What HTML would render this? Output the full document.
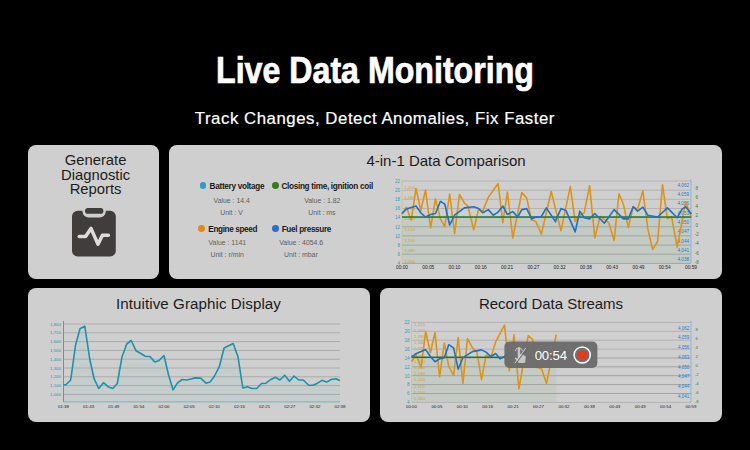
<!DOCTYPE html>
<html><head><meta charset="utf-8"><title>Live Data Monitoring</title>
<style>
html,body{margin:0;padding:0;background:#000;}
body{width:750px;height:450px;position:relative;overflow:hidden;font-family:"Liberation Sans",sans-serif;}
.card{position:absolute;background:#cfcfcf;border-radius:8px;}
.t{position:absolute;white-space:nowrap;transform:translateX(-50%);text-align:center;}
.h1{left:375.2px;top:49.8px;color:#fff;font-weight:bold;font-size:36.6px;line-height:42px;-webkit-text-stroke:0.7px #fff;}
.h1 span{display:inline-block;transform:scaleX(0.879);transform-origin:center;}
.h2{left:374.9px;top:108.1px;color:#fff;font-size:16.8px;line-height:22px;letter-spacing:0.54px;-webkit-text-stroke:0.2px #fff;}
.ct{color:#1c1c1c;font-size:15px;line-height:18px;}
.lg{position:absolute;white-space:nowrap;font-weight:bold;font-size:8.2px;line-height:12px;color:#1a1a1a;letter-spacing:-0.3px;}
.sm{color:#606060;font-size:6.9px;line-height:10px;}
.dot{position:absolute;width:6.8px;height:6.8px;margin:-0.2px 0 0 -0.2px;border-radius:50%;}
svg{position:absolute;left:0;top:0;}
svg text{font-family:"Liberation Sans",sans-serif;}
</style></head><body>
<div class="t h1"><span>Live Data Monitoring</span></div>
<div class="t h2">Track Changes, Detect Anomalies, Fix Faster</div>

<div class="card" style="left:28px;top:145px;width:131px;height:134px;"></div>
<div class="card" style="left:169px;top:145px;width:553px;height:134px;"></div>
<div class="card" style="left:28px;top:288px;width:342px;height:134px;"></div>
<div class="card" style="left:380px;top:288px;width:342px;height:134px;"></div>

<div class="t ct" style="left:95.6px;top:153.3px;font-size:14.8px;line-height:14.3px;">Generate<br>Diagnostic<br>Reports</div>
<div class="t ct" style="left:446px;top:151.6px;">4-in-1 Data Comparison</div>
<div class="t ct" style="left:198.5px;top:295.2px;font-size:15.2px;letter-spacing:0.05px">Intuitive Graphic Display</div>
<div class="t ct" style="left:551px;top:294.5px;">Record Data Streams</div>

<div class="dot" style="left:199.7px;top:182.6px;background:#2a9fc0;"></div>
<div class="lg" style="left:209.6px;top:181.2px;">Battery voltage</div>
<div class="dot" style="left:272px;top:182.6px;background:#3a7a1e;"></div>
<div class="lg" style="left:281.4px;top:181.3px;">Closing time, ignition coil</div>
<div class="t sm" style="left:231.7px;top:195.7px;">Value : 14.4</div>
<div class="t sm" style="left:231.5px;top:207.7px;">Unit : V</div>
<div class="t sm" style="left:322.3px;top:196.1px;">Value : 1.82</div>
<div class="t sm" style="left:321.9px;top:208px;">Unit : ms</div>

<div class="dot" style="left:198.6px;top:225.1px;background:#e08a1a;"></div>
<div class="lg" style="left:208.3px;top:223.6px;letter-spacing:-0.37px">Engine speed</div>
<div class="dot" style="left:271.9px;top:225px;background:#2a6fd0;"></div>
<div class="lg" style="left:281.7px;top:223.6px;letter-spacing:-0.33px">Fuel pressure</div>
<div class="t sm" style="left:227.3px;top:238.1px;">Value : 1141</div>
<div class="t sm" style="left:227.1px;top:249.8px;">Unit : r/min</div>
<div class="t sm" style="left:301.2px;top:238.1px;">Value : 4054.6</div>
<div class="t sm" style="left:300.9px;top:249.8px;">Unit : mbar</div>

<svg width="750" height="450" viewBox="0 0 750 450">
<rect x="402.0" y="217.0" width="289.0" height="46.4" fill="#c4cbc5"/>
<line x1="402.0" y1="181.0" x2="691.0" y2="181.0" stroke="#b3b3b3" stroke-width="1" />
<line x1="402.0" y1="190.2" x2="691.0" y2="190.2" stroke="#b3b3b3" stroke-width="1" />
<line x1="402.0" y1="199.3" x2="691.0" y2="199.3" stroke="#b3b3b3" stroke-width="1" />
<line x1="402.0" y1="208.5" x2="691.0" y2="208.5" stroke="#b3b3b3" stroke-width="1" />
<line x1="402.0" y1="217.6" x2="691.0" y2="217.6" stroke="#a2a4a2" stroke-width="1" />
<line x1="402.0" y1="226.8" x2="691.0" y2="226.8" stroke="#a2a4a2" stroke-width="1" />
<line x1="402.0" y1="235.9" x2="691.0" y2="235.9" stroke="#a2a4a2" stroke-width="1" />
<line x1="402.0" y1="245.1" x2="691.0" y2="245.1" stroke="#a2a4a2" stroke-width="1" />
<line x1="402.0" y1="254.2" x2="691.0" y2="254.2" stroke="#a2a4a2" stroke-width="1" />
<line x1="402.0" y1="263.4" x2="691.0" y2="263.4" stroke="#a2a4a2" stroke-width="1" />
<line x1="402.0" y1="179.5" x2="402.0" y2="263.4" stroke="#d6c08c" stroke-width="1" />
<line x1="691.0" y1="179.5" x2="691.0" y2="263.4" stroke="#8db4dc" stroke-width="1" />
<text x="400.0" y="182.8" fill="#2a9fb5" font-size="4.6" text-anchor="end" >22</text>
<text x="400.0" y="192.0" fill="#2a9fb5" font-size="4.6" text-anchor="end" >20</text>
<text x="400.0" y="201.1" fill="#2a9fb5" font-size="4.6" text-anchor="end" >18</text>
<text x="400.0" y="210.3" fill="#2a9fb5" font-size="4.6" text-anchor="end" >16</text>
<text x="400.0" y="219.4" fill="#2a9fb5" font-size="4.6" text-anchor="end" >14</text>
<text x="400.0" y="228.6" fill="#2a9fb5" font-size="4.6" text-anchor="end" >12</text>
<text x="400.0" y="237.7" fill="#2a9fb5" font-size="4.6" text-anchor="end" >10</text>
<text x="400.0" y="246.9" fill="#2a9fb5" font-size="4.6" text-anchor="end" >8</text>
<text x="400.0" y="256.0" fill="#2a9fb5" font-size="4.6" text-anchor="end" >6</text>
<text x="400.0" y="265.2" fill="#2a9fb5" font-size="4.6" text-anchor="end" >4</text>
<text x="404.2" y="188.5" fill="#d29a35" font-size="4.4" text-anchor="start" opacity="0.9">1,200</text>
<text x="404.2" y="199.1" fill="#d29a35" font-size="4.4" text-anchor="start" opacity="0.9">1,180</text>
<text x="404.2" y="209.7" fill="#d29a35" font-size="4.4" text-anchor="start" opacity="0.9">1,160</text>
<text x="404.2" y="220.3" fill="#d29a35" font-size="4.4" text-anchor="start" opacity="0.9">1,140</text>
<text x="404.2" y="231.0" fill="#d29a35" font-size="4.4" text-anchor="start" opacity="0.9">1,120</text>
<text x="404.2" y="241.6" fill="#d29a35" font-size="4.4" text-anchor="start" opacity="0.9">1,100</text>
<text x="404.2" y="252.2" fill="#d29a35" font-size="4.4" text-anchor="start" opacity="0.9">1,080</text>
<text x="404.2" y="262.8" fill="#d29a35" font-size="4.4" text-anchor="start" opacity="0.9">1,050</text>
<text x="689.2" y="186.9" fill="#2f78c8" font-size="4.7" text-anchor="end" >4,062</text>
<text x="689.2" y="196.2" fill="#2f78c8" font-size="4.7" text-anchor="end" >4,059</text>
<text x="689.2" y="205.4" fill="#2f78c8" font-size="4.7" text-anchor="end" >4,056</text>
<text x="689.2" y="214.7" fill="#2f78c8" font-size="4.7" text-anchor="end" >4,053</text>
<text x="689.2" y="224.0" fill="#2f78c8" font-size="4.7" text-anchor="end" >4,050</text>
<text x="689.2" y="233.3" fill="#2f78c8" font-size="4.7" text-anchor="end" >4,047</text>
<text x="689.2" y="242.5" fill="#2f78c8" font-size="4.7" text-anchor="end" >4,044</text>
<text x="689.2" y="251.8" fill="#2f78c8" font-size="4.7" text-anchor="end" >4,041</text>
<text x="689.2" y="261.1" fill="#2f78c8" font-size="4.7" text-anchor="end" >4,038</text>
<text x="696.8" y="189.6" fill="#4a7a20" font-size="4.5" text-anchor="middle" >8</text>
<text x="696.8" y="198.9" fill="#4a7a20" font-size="4.5" text-anchor="middle" >6</text>
<text x="696.8" y="208.2" fill="#4a7a20" font-size="4.5" text-anchor="middle" >4</text>
<text x="696.8" y="217.4" fill="#4a7a20" font-size="4.5" text-anchor="middle" >2</text>
<text x="696.8" y="226.7" fill="#4a7a20" font-size="4.5" text-anchor="middle" >0</text>
<text x="696.8" y="236.0" fill="#4a7a20" font-size="4.5" text-anchor="middle" >-2</text>
<text x="696.8" y="245.2" fill="#4a7a20" font-size="4.5" text-anchor="middle" >-4</text>
<text x="696.8" y="254.5" fill="#4a7a20" font-size="4.5" text-anchor="middle" >-6</text>
<text x="696.8" y="263.8" fill="#4a7a20" font-size="4.5" text-anchor="middle" >-8</text>
<text x="402.0" y="269.4" fill="#222" font-size="4.8" text-anchor="middle" >00:00</text>
<text x="428.3" y="269.4" fill="#222" font-size="4.8" text-anchor="middle" >00:05</text>
<text x="454.5" y="269.4" fill="#222" font-size="4.8" text-anchor="middle" >00:10</text>
<text x="480.8" y="269.4" fill="#222" font-size="4.8" text-anchor="middle" >00:16</text>
<text x="507.1" y="269.4" fill="#222" font-size="4.8" text-anchor="middle" >00:21</text>
<text x="533.4" y="269.4" fill="#222" font-size="4.8" text-anchor="middle" >00:27</text>
<text x="559.6" y="269.4" fill="#222" font-size="4.8" text-anchor="middle" >00:32</text>
<text x="585.9" y="269.4" fill="#222" font-size="4.8" text-anchor="middle" >00:38</text>
<text x="612.2" y="269.4" fill="#222" font-size="4.8" text-anchor="middle" >00:43</text>
<text x="638.5" y="269.4" fill="#222" font-size="4.8" text-anchor="middle" >00:49</text>
<text x="664.7" y="269.4" fill="#222" font-size="4.8" text-anchor="middle" >00:54</text>
<text x="691.0" y="269.4" fill="#222" font-size="4.8" text-anchor="middle" >00:59</text>
<path d="M402.0 214.0 L406.4 207.4 L411.3 220.1 L416.0 188.3 L420.8 210.4 L425.5 190.1 L430.6 228.0 L435.5 198.9 L440.4 218.9 L444.8 226.7 L449.7 194.0 L454.6 233.6 L459.5 194.5 L464.4 203.0 L468.0 206.2 L473.7 229.9 L478.6 209.1 L482.7 211.1 L488.3 197.4 L498.1 183.5 L502.8 222.6 L507.4 192.0 L512.8 238.0 L521.8 192.5 L526.7 198.1 L531.6 220.1 L535.8 221.4 L541.4 234.1 L551.2 191.5 L561.0 230.7 L570.3 186.6 L575.2 221.4 L579.8 215.2 L584.2 212.8 L589.6 185.9 L594.8 237.7 L600.1 216.5 L608.7 222.6 L614.1 240.4 L619.0 193.7 L623.4 204.2 L628.3 227.5 L633.2 206.7 L637.6 209.1 L642.9 190.8 L647.8 228.7 L652.7 249.5 L657.6 241.4 L662.5 184.7 L667.4 218.9 L671.5 216.5 L677.2 247.0 L685.7 201.8 L691.4 217.7" fill="none" stroke="#dc9418" stroke-width="1.6" stroke-linejoin="round"/>
<line x1="402.0" y1="217.0" x2="691.0" y2="217.0" stroke="#1f7a2c" stroke-width="1.5" />
<path d="M402.0 213.5 L406.4 209.1 L416.0 206.0 L420.8 212.8 L425.5 217.0 L430.6 214.5 L435.5 213.5 L440.4 201.3 L444.8 204.2 L449.7 225.0 L454.6 215.2 L464.4 207.9 L473.7 206.7 L478.6 208.6 L482.7 212.8 L488.3 209.6 L493.2 215.2 L498.1 212.1 L502.8 206.2 L507.4 214.5 L512.8 211.6 L517.7 217.0 L521.8 209.6 L526.7 208.6 L531.6 218.9 L535.8 217.0 L541.4 216.5 L546.3 207.9 L555.6 221.8 L555.4 221.4 L561.0 208.6 L565.9 210.4 L575.2 231.9 L579.8 211.1 L584.2 217.7 L589.6 218.9 L594.8 213.5 L604.3 223.3 L614.1 209.6 L623.4 218.9 L628.3 218.9 L633.2 206.7 L637.6 211.1 L642.9 207.2 L647.8 215.2 L657.6 217.0 L667.4 207.9 L677.2 217.7 L682.1 209.1 L685.7 206.7 L691.4 214.0" fill="none" stroke="#1f70c6" stroke-width="1.6" stroke-linejoin="round"/>
<path d="M63.5 384.8 L65.9 384.8 L70.7 380.0 L75.5 345.3 L80.0 328.8 L84.8 326.1 L89.9 360.0 L94.1 378.7 L98.7 388.5 L103.5 382.7 L108.5 386.9 L112.8 388.5 L117.3 383.5 L121.9 357.3 L126.7 344.0 L131.2 340.5 L136.0 350.7 L140.5 353.3 L145.3 356.3 L149.9 356.5 L154.7 361.9 L158.7 360.8 L164.0 355.5 L168.5 374.7 L173.1 389.9 L177.3 383.2 L182.1 379.5 L186.7 380.0 L190.0 379.2 L195.3 377.9 L200.7 378.1 L206.0 383.2 L210.0 382.1 L214.5 376.0 L219.3 366.7 L224.1 348.0 L233.2 343.5 L238.0 356.8 L242.8 388.0 L247.3 386.7 L251.9 388.5 L256.7 388.5 L261.5 383.5 L266.0 383.2 L270.0 380.0 L275.3 377.3 L279.9 380.0 L284.7 375.2 L289.5 381.3 L294.0 376.0 L298.8 380.0 L303.3 380.0 L308.7 385.3 L313.2 385.3 L317.5 383.2 L322.0 380.3 L326.5 382.1 L331.3 379.5 L335.9 378.7 L339.9 380.5 L340.0 401.9 L63.5 401.9 Z" fill="#c6cdcd" stroke="none"/>
<line x1="63.5" y1="324.0" x2="340.0" y2="324.0" stroke="#a9abab" stroke-width="1" />
<line x1="63.5" y1="332.8" x2="340.0" y2="332.8" stroke="#a9abab" stroke-width="1" />
<line x1="63.5" y1="341.6" x2="340.0" y2="341.6" stroke="#a9abab" stroke-width="1" />
<line x1="63.5" y1="350.4" x2="340.0" y2="350.4" stroke="#a9abab" stroke-width="1" />
<line x1="63.5" y1="359.2" x2="340.0" y2="359.2" stroke="#a9abab" stroke-width="1" />
<line x1="63.5" y1="368.0" x2="340.0" y2="368.0" stroke="#a9abab" stroke-width="1" />
<line x1="63.5" y1="376.8" x2="340.0" y2="376.8" stroke="#a9abab" stroke-width="1" />
<line x1="63.5" y1="385.6" x2="340.0" y2="385.6" stroke="#a9abab" stroke-width="1" />
<line x1="63.5" y1="394.4" x2="340.0" y2="394.4" stroke="#a9abab" stroke-width="1" />
<line x1="63.5" y1="401.9" x2="340.0" y2="401.9" stroke="#5ab0b8" stroke-width="0.8" />
<line x1="63.5" y1="321.0" x2="63.5" y2="401.9" stroke="#3aa7b8" stroke-width="1" />
<text x="61.0" y="325.6" fill="#1f98b0" font-size="4.4" text-anchor="end" >1,800</text>
<text x="61.0" y="334.4" fill="#1f98b0" font-size="4.4" text-anchor="end" >1,700</text>
<text x="61.0" y="343.2" fill="#1f98b0" font-size="4.4" text-anchor="end" >1,600</text>
<text x="61.0" y="352.0" fill="#1f98b0" font-size="4.4" text-anchor="end" >1,500</text>
<text x="61.0" y="360.8" fill="#1f98b0" font-size="4.4" text-anchor="end" >1,400</text>
<text x="61.0" y="369.6" fill="#1f98b0" font-size="4.4" text-anchor="end" >1,300</text>
<text x="61.0" y="378.4" fill="#1f98b0" font-size="4.4" text-anchor="end" >1,200</text>
<text x="61.0" y="387.2" fill="#1f98b0" font-size="4.4" text-anchor="end" >1,100</text>
<text x="61.0" y="396.0" fill="#1f98b0" font-size="4.4" text-anchor="end" >1,000</text>
<text x="63.5" y="408.2" fill="#222" font-size="4.4" text-anchor="middle" >01:38</text>
<text x="88.6" y="408.2" fill="#222" font-size="4.4" text-anchor="middle" >01:43</text>
<text x="113.8" y="408.2" fill="#222" font-size="4.4" text-anchor="middle" >01:49</text>
<text x="138.9" y="408.2" fill="#222" font-size="4.4" text-anchor="middle" >01:54</text>
<text x="164.0" y="408.2" fill="#222" font-size="4.4" text-anchor="middle" >02:00</text>
<text x="189.2" y="408.2" fill="#222" font-size="4.4" text-anchor="middle" >02:05</text>
<text x="214.3" y="408.2" fill="#222" font-size="4.4" text-anchor="middle" >02:10</text>
<text x="239.5" y="408.2" fill="#222" font-size="4.4" text-anchor="middle" >02:16</text>
<text x="264.6" y="408.2" fill="#222" font-size="4.4" text-anchor="middle" >02:21</text>
<text x="289.7" y="408.2" fill="#222" font-size="4.4" text-anchor="middle" >02:27</text>
<text x="314.9" y="408.2" fill="#222" font-size="4.4" text-anchor="middle" >02:32</text>
<text x="340.0" y="408.2" fill="#222" font-size="4.4" text-anchor="middle" >02:38</text>
<path d="M63.5 384.8 L65.9 384.8 L70.7 380.0 L75.5 345.3 L80.0 328.8 L84.8 326.1 L89.9 360.0 L94.1 378.7 L98.7 388.5 L103.5 382.7 L108.5 386.9 L112.8 388.5 L117.3 383.5 L121.9 357.3 L126.7 344.0 L131.2 340.5 L136.0 350.7 L140.5 353.3 L145.3 356.3 L149.9 356.5 L154.7 361.9 L158.7 360.8 L164.0 355.5 L168.5 374.7 L173.1 389.9 L177.3 383.2 L182.1 379.5 L186.7 380.0 L190.0 379.2 L195.3 377.9 L200.7 378.1 L206.0 383.2 L210.0 382.1 L214.5 376.0 L219.3 366.7 L224.1 348.0 L233.2 343.5 L238.0 356.8 L242.8 388.0 L247.3 386.7 L251.9 388.5 L256.7 388.5 L261.5 383.5 L266.0 383.2 L270.0 380.0 L275.3 377.3 L279.9 380.0 L284.7 375.2 L289.5 381.3 L294.0 376.0 L298.8 380.0 L303.3 380.0 L308.7 385.3 L313.2 385.3 L317.5 383.2 L322.0 380.3 L326.5 382.1 L331.3 379.5 L335.9 378.7 L339.9 380.5" fill="none" stroke="#1a93ab" stroke-width="1.6" stroke-linejoin="round"/>
<rect x="411.5" y="357.2" width="144.8" height="45.2" fill="#c4cbc5"/>
<line x1="411.5" y1="322.4" x2="691.0" y2="322.4" stroke="#b3b3b3" stroke-width="1" />
<line x1="411.5" y1="331.3" x2="691.0" y2="331.3" stroke="#b3b3b3" stroke-width="1" />
<line x1="411.5" y1="340.2" x2="691.0" y2="340.2" stroke="#b3b3b3" stroke-width="1" />
<line x1="411.5" y1="349.1" x2="691.0" y2="349.1" stroke="#b3b3b3" stroke-width="1" />
<line x1="411.5" y1="358.0" x2="691.0" y2="358.0" stroke="#a2a4a2" stroke-width="1" />
<line x1="411.5" y1="366.8" x2="691.0" y2="366.8" stroke="#a2a4a2" stroke-width="1" />
<line x1="411.5" y1="375.7" x2="691.0" y2="375.7" stroke="#a2a4a2" stroke-width="1" />
<line x1="411.5" y1="384.6" x2="691.0" y2="384.6" stroke="#a2a4a2" stroke-width="1" />
<line x1="411.5" y1="393.5" x2="691.0" y2="393.5" stroke="#a2a4a2" stroke-width="1" />
<line x1="411.5" y1="402.4" x2="691.0" y2="402.4" stroke="#b3b3b3" stroke-width="1" />
<line x1="411.5" y1="320.9" x2="411.5" y2="402.4" stroke="#d6c08c" stroke-width="1" />
<line x1="691.0" y1="320.9" x2="691.0" y2="402.4" stroke="#8db4dc" stroke-width="1" />
<text x="409.5" y="324.2" fill="#2a9fb5" font-size="4.6" text-anchor="end" >22</text>
<text x="409.5" y="333.1" fill="#2a9fb5" font-size="4.6" text-anchor="end" >20</text>
<text x="409.5" y="342.0" fill="#2a9fb5" font-size="4.6" text-anchor="end" >18</text>
<text x="409.5" y="350.9" fill="#2a9fb5" font-size="4.6" text-anchor="end" >16</text>
<text x="409.5" y="359.8" fill="#2a9fb5" font-size="4.6" text-anchor="end" >14</text>
<text x="409.5" y="368.6" fill="#2a9fb5" font-size="4.6" text-anchor="end" >12</text>
<text x="409.5" y="377.5" fill="#2a9fb5" font-size="4.6" text-anchor="end" >10</text>
<text x="409.5" y="386.4" fill="#2a9fb5" font-size="4.6" text-anchor="end" >8</text>
<text x="409.5" y="395.3" fill="#2a9fb5" font-size="4.6" text-anchor="end" >6</text>
<text x="409.5" y="404.2" fill="#2a9fb5" font-size="4.6" text-anchor="end" >4</text>
<text x="414.0" y="325.5" fill="#d29a35" font-size="4.4" text-anchor="start" opacity="0.9">1,213</text>
<text x="414.0" y="331.7" fill="#d29a35" font-size="4.4" text-anchor="start" opacity="0.9">1,200</text>
<text x="414.0" y="337.9" fill="#d29a35" font-size="4.4" text-anchor="start" opacity="0.9">1,190</text>
<text x="414.0" y="344.1" fill="#d29a35" font-size="4.4" text-anchor="start" opacity="0.9">1,180</text>
<text x="414.0" y="350.3" fill="#d29a35" font-size="4.4" text-anchor="start" opacity="0.9">1,170</text>
<text x="414.0" y="356.5" fill="#d29a35" font-size="4.4" text-anchor="start" opacity="0.9">1,160</text>
<text x="414.0" y="362.7" fill="#d29a35" font-size="4.4" text-anchor="start" opacity="0.9">1,150</text>
<text x="414.0" y="368.9" fill="#d29a35" font-size="4.4" text-anchor="start" opacity="0.9">1,140</text>
<text x="414.0" y="375.1" fill="#d29a35" font-size="4.4" text-anchor="start" opacity="0.9">1,130</text>
<text x="414.0" y="381.3" fill="#d29a35" font-size="4.4" text-anchor="start" opacity="0.9">1,120</text>
<text x="414.0" y="387.5" fill="#d29a35" font-size="4.4" text-anchor="start" opacity="0.9">1,110</text>
<text x="414.0" y="393.7" fill="#d29a35" font-size="4.4" text-anchor="start" opacity="0.9">1,100</text>
<text x="414.0" y="399.9" fill="#d29a35" font-size="4.4" text-anchor="start" opacity="0.9">1,090</text>
<text x="689.2" y="329.6" fill="#2f78c8" font-size="4.5" text-anchor="end" >4,062</text>
<text x="689.2" y="339.3" fill="#2f78c8" font-size="4.5" text-anchor="end" >4,059</text>
<text x="689.2" y="349.0" fill="#2f78c8" font-size="4.5" text-anchor="end" >4,056</text>
<text x="689.2" y="358.7" fill="#2f78c8" font-size="4.5" text-anchor="end" >4,053</text>
<text x="689.2" y="368.5" fill="#2f78c8" font-size="4.5" text-anchor="end" >4,050</text>
<text x="689.2" y="378.2" fill="#2f78c8" font-size="4.5" text-anchor="end" >4,047</text>
<text x="689.2" y="387.9" fill="#2f78c8" font-size="4.5" text-anchor="end" >4,044</text>
<text x="689.2" y="397.6" fill="#2f78c8" font-size="4.5" text-anchor="end" >4,041</text>
<text x="696.8" y="330.6" fill="#4a7a20" font-size="4.3" text-anchor="middle" >8</text>
<text x="696.8" y="339.6" fill="#4a7a20" font-size="4.3" text-anchor="middle" >6</text>
<text x="696.8" y="348.6" fill="#4a7a20" font-size="4.3" text-anchor="middle" >4</text>
<text x="696.8" y="357.6" fill="#4a7a20" font-size="4.3" text-anchor="middle" >2</text>
<text x="696.8" y="366.6" fill="#4a7a20" font-size="4.3" text-anchor="middle" >0</text>
<text x="696.8" y="375.6" fill="#4a7a20" font-size="4.3" text-anchor="middle" >-2</text>
<text x="696.8" y="384.6" fill="#4a7a20" font-size="4.3" text-anchor="middle" >-4</text>
<text x="696.8" y="393.6" fill="#4a7a20" font-size="4.3" text-anchor="middle" >-6</text>
<text x="696.8" y="402.6" fill="#4a7a20" font-size="4.3" text-anchor="middle" >-8</text>
<text x="411.5" y="407.7" fill="#222" font-size="4.4" text-anchor="middle" >00:00</text>
<text x="436.9" y="407.7" fill="#222" font-size="4.4" text-anchor="middle" >00:05</text>
<text x="462.3" y="407.7" fill="#222" font-size="4.4" text-anchor="middle" >00:10</text>
<text x="487.7" y="407.7" fill="#222" font-size="4.4" text-anchor="middle" >00:16</text>
<text x="513.1" y="407.7" fill="#222" font-size="4.4" text-anchor="middle" >00:21</text>
<text x="538.5" y="407.7" fill="#222" font-size="4.4" text-anchor="middle" >00:27</text>
<text x="564.0" y="407.7" fill="#222" font-size="4.4" text-anchor="middle" >00:32</text>
<text x="589.4" y="407.7" fill="#222" font-size="4.4" text-anchor="middle" >00:38</text>
<text x="614.8" y="407.7" fill="#222" font-size="4.4" text-anchor="middle" >00:43</text>
<text x="640.2" y="407.7" fill="#222" font-size="4.4" text-anchor="middle" >00:49</text>
<text x="665.6" y="407.7" fill="#222" font-size="4.4" text-anchor="middle" >00:54</text>
<text x="691.0" y="407.7" fill="#222" font-size="4.4" text-anchor="middle" >00:59</text>
<path d="M411.5 361.4 L416.4 355.2 L421.1 367.5 L425.7 331.5 L430.4 352.8 L435.0 332.5 L439.6 376.8 L444.3 343.0 L448.7 366.2 L453.6 375.5 L458.2 337.6 L462.9 383.4 L467.5 338.6 L472.4 347.9 L476.8 351.6 L481.5 379.7 L486.1 355.2 L490.8 357.7 L495.7 341.8 L504.5 325.2 L509.3 370.7 L514.0 334.9 L518.9 388.8 L528.2 335.7 L532.6 339.3 L536.7 367.5 L541.6 368.7 L546.5 383.4 L556.3 334.5" fill="none" stroke="#dc9418" stroke-width="1.6" stroke-linejoin="round"/>
<line x1="411.5" y1="357.2" x2="510.0" y2="357.2" stroke="#1f7a2c" stroke-width="1.5" />
<path d="M411.5 357.0 L416.4 353.5 L425.7 349.6 L430.4 356.5 L435.0 361.8 L439.6 358.9 L444.3 357.7 L448.7 344.7 L453.6 347.9 L458.2 369.2 L462.9 357.7 L472.4 351.6 L481.5 349.9 L486.1 352.1 L490.8 356.5 L495.7 353.5 L500.1 358.9 L504.5 356.5 L509.3 352.8 L514.0 357.7" fill="none" stroke="#1f70c6" stroke-width="1.6" stroke-linejoin="round"/>
<rect x="504.4" y="341.6" width="93" height="26.4" rx="5" fill="#6b6b6b" fill-opacity="0.96"/>
<g><path d="M517.7 356.2 v-7.6 a1.25 1.25 0 0 1 2.5 0 v5.8 l1 -0.3 l3.4 1.3 a1.8 1.8 0 0 1 1.2 2 l-0.5 4.4 a1.3 1.3 0 0 1 -1.3 1.2 h-4.4 a1.6 1.6 0 0 1 -1.2 -0.6 l-3.4 -3.7 a0.7 0.7 0 0 1 1 -1 l1.9 1.3z" fill="#c6c6c6"/><path d="M515.3 350.8 a3.65 3.65 0 0 1 7.2 0" fill="none" stroke="#c6c6c6" stroke-width="0.9" stroke-linecap="round"/><line x1="526.4" y1="349" x2="516.2" y2="363.2" stroke="#6b6b6b" stroke-width="1.1"/><line x1="525.4" y1="348.5" x2="515.1" y2="362.9" stroke="#dcdcdc" stroke-width="0.9" stroke-linecap="round"/></g>
<text x="550.8" y="360.1" fill="#fff" font-size="13.2" text-anchor="middle" letter-spacing="-0.15">00:54</text>
<circle cx="582.2" cy="355" r="8.1" fill="none" stroke="#fff" stroke-width="1.5"/>
<rect x="577.4" y="351.1" width="9.4" height="7.8" rx="1.6" fill="#e8391d"/>
<g><rect x="72" y="210.8" width="43.8" height="45.6" rx="5.5" fill="#413d3d"/><rect x="82.5" y="203" width="23.3" height="14.5" rx="6.2" fill="#cfcfcf"/><rect x="85" y="208" width="18.4" height="5.8" rx="2.9" fill="#413d3d"/><path d="M79.2 236.4 H85.6 L91 228.4 L98 244.2 L102.4 235.3 H108.4" fill="none" stroke="#dedbd9" stroke-width="3.5" stroke-linejoin="round" stroke-linecap="round"/></g>
</svg>
</body></html>
